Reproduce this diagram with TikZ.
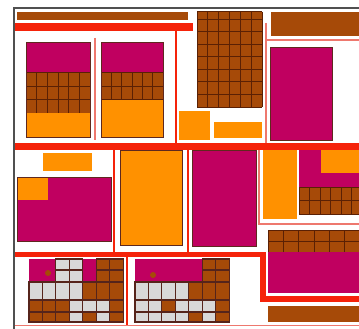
\documentclass[tikz,border=0pt]{standalone}
\usepackage{tikz}
\definecolor{brn}{RGB}{166,74,8}
\definecolor{mag}{RGB}{192,0,96}
\definecolor{org}{RGB}{255,145,0}
\definecolor{rd}{RGB}{245,35,10}
\definecolor{pk}{RGB}{238,120,110}
\definecolor{gry}{RGB}{216,216,216}
\definecolor{frm}{RGB}{80,80,80}
\definecolor{gln}{RGB}{90,32,4}
\definecolor{oln}{RGB}{95,40,30}
\colorlet{cM}{mag}
\colorlet{cG}{gry}
\colorlet{cB}{brn}
\tikzset{
  gl/.style={draw=gln, line width=1pt},
  cl/.style={draw=oln!90!black, line width=1.1pt},
  ol/.style={draw=oln, line width=0.7pt},
  redline/.style={draw=rd, line width=2pt},
  pinkline/.style={draw=pk, line width=1.4pt},
}
\newcommand\mybgrid[6]{%
  \fill[brn] (#1,#2) rectangle (#3,#4);
  \foreach \k in {0,...,#5}{\draw[gl] ({#1+(#3-#1)*\k/#5},#2) -- ({#1+(#3-#1)*\k/#5},#4);}
  \foreach \k in {0,...,#6}{\draw[gl] (#1,{#2+(#4-#2)*\k/#6}) -- (#3,{#2+(#4-#2)*\k/#6});}
}
\def\mM{M}
\newcommand\mycells[3]{%
  \foreach \ya/\yb/\rw in {#3}{%
    \foreach \c [count=\j from 0] in \rw {%
      \fill[c\c] ({#1+#2*\j},\ya) rectangle ({#1+#2*(\j+1)},\yb);
    }%
  }%
  \foreach \ya/\yb/\rw in {#3}{%
    \foreach \c [count=\j from 0] in \rw {%
      \ifx\c\mM\else
        \draw[cl] ({#1+#2*\j},\ya) rectangle ({#1+#2*(\j+1)},\yb);
      \fi
    }%
  }%
}
\begin{document}
\begin{tikzpicture}[x=1pt,y=-1pt]
\useasboundingbox (0,0) rectangle (359,329);
\fill[white] (0,0) rectangle (359,329);

% ---------- top section ----------
\fill[brn] (17,12) rectangle (188,20);
\fill[rd] (14,23) rectangle (193,31);
\draw[redline] (176,31) -- (176,143);
\draw[pinkline] (95,38) -- (95,140);

% block 1
\fill[mag] (26,42) rectangle (90,73);
\mybgrid{26}{73}{90}{113}{6}{3}
\fill[org] (26,113) rectangle (90,137);
\draw[ol] (26,42) rectangle (90,137);
% block 2
\fill[mag] (101,42) rectangle (163,73);
\mybgrid{101}{73}{163}{100}{6}{2}
\fill[org] (101,100) rectangle (163,137);
\draw[ol] (101,42) rectangle (163,137);

% top middle grid
\fill[brn] (197,12) rectangle (262,107);
\foreach \k in {0,...,6}{\draw[gl] ({197+65*\k/6},12) -- ({197+65*\k/6},107);}
\foreach \yy in {12,19.5,32,44.5,57,69.5,82,94.5,107}{\draw[gl] (197,\yy) -- (262,\yy);}
\fill[org] (179,111) rectangle (210,140);
\fill[org] (214,122) rectangle (262,138);

\draw[pinkline] (266,23) -- (266,143);
\draw[pinkline] (266,40) -- (359,40);
\fill[brn] (271,12) rectangle (359,36);
\fill[mag] (270,47) rectangle (332,140);
\draw[ol] (270,47) rectangle (332,140);

% red band
\fill[rd] (14,143) rectangle (359,150);

% ---------- middle section ----------
\fill[org] (43,153) rectangle (92,171);
\fill[mag] (17,177) rectangle (111,241);
\fill[org] (17,177) rectangle (48,200);
\draw[ol] (17,177) rectangle (111,241);
\draw[redline] (114,150) -- (114,252);
\fill[org] (120,150) rectangle (182,245);
\draw[ol] (120,150) rectangle (182,245);
\draw[redline] (188,150) -- (188,252);
\fill[mag] (192,150) rectangle (256,246);
\draw[ol] (192,150) rectangle (256,246);
\draw[pinkline] (259,150) -- (259,224) -- (359,224);
\fill[org] (263,150) rectangle (297,219);
\fill[mag] (299,150) rectangle (359,187);
\fill[org] (321,150) rectangle (359,173);
\begin{scope}
\clip (299,150) rectangle (359,214);
\mybgrid{299}{187}{362}{214}{6}{2}
\end{scope}

\begin{scope}
\clip (268,229) rectangle (359,253);
\mybgrid{268}{230}{360}{252}{6}{2}
\end{scope}
\fill[mag] (268,252) rectangle (359,293);

% red band lower
\fill[rd] (14,252) rectangle (265,257);
\fill[rd] (260,252) rectangle (266,302);
\fill[rd] (260,296) rectangle (359,302);
\fill[brn] (268,306) rectangle (359,322);

% ---------- bottom section ----------
\draw[redline] (127,257) -- (127,325);
\mycells{29}{13.45}{259/270/{M,M,G,G,M,B,B},270/282/{M,M,G,G,M,B,B},282/300/{G,G,G,G,B,B,B},300/312/{B,B,B,G,G,G,B},312/322/{B,B,B,G,B,G,B}}
\fill[brn] (48,273) circle (3);
\mycells{135}{13.45}{259/270/{M,M,M,M,M,B,B},270/282/{M,M,M,M,M,B,B},282/300/{G,G,G,G,B,B,B},300/312/{G,G,B,G,G,G,B},312/322/{G,G,G,G,B,G,B}}
\fill[brn] (153,275) circle (3);

\draw[pinkline] (14,325.5) -- (359,325.5);
% frame
\draw[frm, line width=1.3pt] (14,329) -- (14,8) -- (359,8);
\end{tikzpicture}
\end{document}
